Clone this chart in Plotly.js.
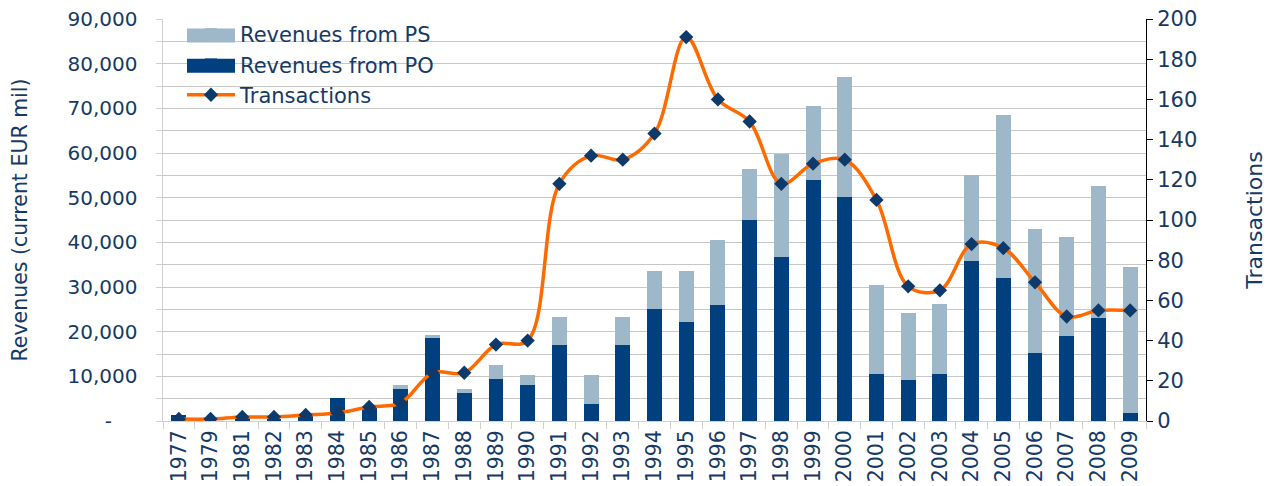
<!DOCTYPE html>
<html>
<head>
<meta charset="utf-8">
<script src="https://cdn.plot.ly/plotly-3.0.1.min.js"></script>
<style>
html,body{margin:0;padding:0;background:#fff;}
#chart{width:1272px;height:486px;}
</style>
</head>
<body>
<div id="chart"></div>
<script>
var years = ['1977','1979','1981','1982','1983','1984','1985','1986','1987','1988','1989','1990','1991','1992','1993','1994','1995','1996','1997','1998','1999','2000','2001','2002','2003','2004','2005','2006','2007','2008','2009'];
var revenuesPO = [1300,0,700,400,1200,5200,3000,7200,18600,6300,9300,8000,17000,3800,17000,25000,22200,26000,45000,36700,54000,50100,10600,9200,10500,35800,32000,15200,19000,23100,1900];
var revenuesPS = [0,0,0,0,0,0,0,800,600,900,3300,2300,6300,6500,6300,8600,11400,14500,11400,23100,16500,26900,19800,15000,15700,19300,36500,27800,22200,29500,32600];
var transactions = [1,1,2,2,3,4,7,9,24,24,38,40,118,132,130,143,191,160,149,118,128,130,110,67,65,88,86,69,52,55,55];
var leftTickVals = [0,10000,20000,30000,40000,50000,60000,70000,80000,90000];
var leftTickText = ['-\u00a0\u00a0\u00a0\u00a0','10,000','20,000','30,000','40,000','50,000','60,000','70,000','80,000','90,000'];

var txt = '#163a66';
var fnt = 'DejaVu Sans, Verdana, sans-serif';
var colPO = '#00407f', colPS = '#9fb8c9';

// plot-area geometry in pixels (for converting legend decoration to paper coords)
var W = 1272, H = 486, mL = 163, mR = 126, mT = 19, mB = 65;
var pw = W - mL - mR, ph = H - mT - mB;
function px(x){ return (x - mL) / pw; }
function py(y){ return (H - mB - y) / ph; }

var traces = [
  {type:'bar', name:'Revenues from PO', x:years, y:revenuesPO, marker:{color:colPO}, legendrank:2},
  {type:'bar', name:'Revenues from PS', x:years, y:revenuesPS, marker:{color:colPS}, legendrank:1},
  {type:'scatter', mode:'lines+markers', name:'Transactions', x:years, y:transactions, yaxis:'y2',
   line:{color:'#ff6a00', width:3.5, shape:'spline', smoothing:1},
   marker:{symbol:'diamond', size:11, color:'#0d3a6b'}, legendrank:3}
];

var legLeft = 182, legTop = 14;
var shapes = [
  {type:'rect', xref:'paper', yref:'paper', layer:'between', x0:px(165), x1:px(459), y0:py(104), y1:py(22),
   fillcolor:'#fff', line:{width:0}},
  {type:'rect', xref:'paper', yref:'paper', layer:'above', x0:px(187), x1:px(235), y0:py(42.5), y1:py(28.5),
   fillcolor:colPS, line:{width:0}},
  {type:'rect', xref:'paper', yref:'paper', layer:'above', x0:px(187), x1:px(235), y0:py(72.8), y1:py(58.8),
   fillcolor:colPO, line:{width:0}}
];

var layout = {
  width:W, height:H,
  margin:{l:mL, r:mR, t:mT, b:mB},
  paper_bgcolor:'#fff', plot_bgcolor:'#fff',
  font:{family:fnt, size:20, color:txt},
  barmode:'stack', bargap:0.53,
  showlegend:true,
  shapes:shapes,
  legend:{x:px(legLeft), y:py(legTop), xanchor:'left', yanchor:'top', bgcolor:'rgba(255,255,255,0)',
          font:{family:fnt, size:21, color:txt}, itemwidth:48, tracegroupgap:0, traceorder:'normal'},
  xaxis:{type:'category', range:[-0.5, 30.5], tickangle:-90, ticks:'outside', ticklen:7, tickcolor:'#d0d0d0',
         tickson:'boundaries', showline:true, linecolor:'#d0d0d0', linewidth:1, showgrid:false,
         tickfont:{family:fnt, size:20.5, color:txt}, fixedrange:true, automargin:false},
  yaxis:{range:[0,90000], tickvals:leftTickVals, ticktext:leftTickText, ticks:'outside', ticklen:6,
         tickcolor:'#d0d0d0', showline:true, linecolor:'#d0d0d0', linewidth:1.5,
         showgrid:true, gridcolor:'#c8c8c8', gridwidth:1, zeroline:false, ticklabelstandoff:14,
         minor:{dtick:5000, tick0:0, ticks:'outside', ticklen:6, tickcolor:'#d0d0d0', showgrid:true, gridcolor:'#c8c8c8', gridwidth:1},
         tickfont:{family:fnt, size:20, color:txt},
         title:{text:'Revenues (current EUR mil)', font:{family:fnt, size:20.5, color:txt}, standoff:34}},
  yaxis2:{overlaying:'y', side:'right', range:[0,200], dtick:20, tick0:0, ticks:'outside', ticklen:6,
          tickcolor:'#000', showline:true, linecolor:'#000', linewidth:1, showgrid:false, zeroline:false,
          tickfont:{family:fnt, size:21, color:txt},
          title:{text:'Transactions', font:{family:fnt, size:22, color:txt}, standoff:50}}
};

Plotly.newPlot('chart', traces, layout, {displayModeBar:false, staticPlot:true});
</script>
</body>
</html>
